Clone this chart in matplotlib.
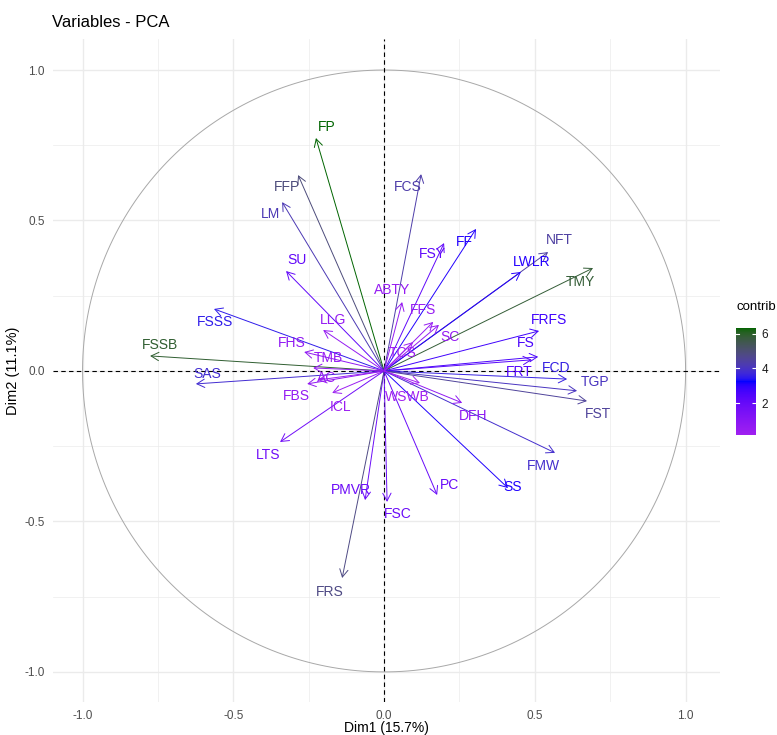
import numpy as np
import matplotlib
matplotlib.use("Agg")
import matplotlib.pyplot as plt
from matplotlib.colors import ListedColormap, Normalize, to_rgb
from matplotlib.cm import ScalarMappable

plt.rcParams['font.family'] = ['Liberation Sans', 'DejaVu Sans']

# ------------------------------------------------------------------
# donnees (coordonnees des variables sur Dim1/Dim2)
# ------------------------------------------------------------------
var_names = ["FP", "FFP", "LM", "SU", "FCS", "FF", "FSY", "NFT", "LWLR", "TMY",
             "FRFS", "FS", "FRT", "FCD", "TGP", "FST", "FSSS", "FSSB", "SAS", "LLG",
             "FHS", "TMB", "AC", "FBS", "ICL", "LTS", "PMVR", "FSC", "PC", "SS",
             "FRS", "FMW", "DFH", "WSWB", "ABTY", "FFS", "SC", "TCS"]
dim1 = [-0.226, -0.285, -0.338, -0.325, 0.123, 0.305, 0.199, 0.544, 0.454, 0.693,
        0.514, 0.511, 0.490, 0.607, 0.640, 0.673, -0.564, -0.776, -0.624, -0.202,
        -0.265, -0.235, -0.219, -0.255, -0.172, -0.345, -0.063, 0.010, 0.176, 0.411,
        -0.139, 0.567, 0.259, 0.119, 0.060, 0.163, 0.182, 0.096]
dim2 = [0.774, 0.651, 0.561, 0.332, 0.654, 0.472, 0.425, 0.395, 0.329, 0.342,
        0.133, 0.047, 0.037, -0.027, -0.066, -0.100, 0.206, 0.050, -0.043, 0.136,
        0.063, 0.010, -0.030, -0.043, -0.073, -0.236, -0.429, -0.435, -0.412, -0.389,
        -0.688, -0.272, -0.106, -0.040, 0.229, 0.163, 0.153, 0.096]
contrib = [6.34, 4.92, 4.18, 2.10, 4.32, 3.08, 2.15, 4.41, 3.06, 5.82,
           2.75, 2.57, 2.35, 3.60, 4.04, 4.51, 3.51, 5.90, 3.81, 0.58,
           0.72, 0.54, 0.48, 0.65, 0.34, 1.70, 1.83, 1.85, 1.96, 3.12,
           4.80, 3.86, 0.76, 0.15, 0.55, 0.52, 0.55, 0.18]
# position des etiquettes (repoussees comme ggrepel)
lab_x = [-0.189, -0.322, -0.378, -0.289, 0.080, 0.265, 0.159, 0.580, 0.491, 0.650,
         0.547, 0.471, 0.448, 0.570, 0.700, 0.710, -0.561, -0.743, -0.587, -0.169,
         -0.305, -0.186, -0.189, -0.292, -0.143, -0.385, -0.109, 0.046, 0.216, 0.425,
         -0.179, 0.527, 0.295, 0.076, 0.027, 0.129, 0.219, 0.063]
lab_y = [0.811, 0.611, 0.522, 0.369, 0.611, 0.429, 0.389, 0.435, 0.362, 0.296,
         0.169, 0.093, -0.003, 0.010, -0.037, -0.143, 0.163, 0.086, -0.010, 0.169,
         0.093, 0.043, -0.023, -0.083, -0.120, -0.279, -0.395, -0.475, -0.379, -0.385,
         -0.734, -0.316, -0.150, -0.086, 0.269, 0.203, 0.113, 0.060]

ticks = [-1.0, -0.5, 0.0, 0.5, 1.0]
grad_cols = ["#A020F0", "#0000FF", "#006400"]   # purple, blue, darkgreen (R)


# ------------------------------------------------------------------
# degrade interpole dans l'espace Lab, comme scale_color_gradientn
# ------------------------------------------------------------------
WHITE = np.array([0.95047, 1.0, 1.08883])
M = np.array([[0.4124, 0.3576, 0.1805],
              [0.2126, 0.7152, 0.0722],
              [0.0193, 0.1192, 0.9505]])
MINV = np.linalg.inv(M)


def to_lab(hexcol):
    c = np.array(to_rgb(hexcol))
    lin = np.where(c <= 0.04045, c / 12.92, ((c + 0.055) / 1.055) ** 2.4)
    xyz = M @ lin / WHITE
    f = np.where(xyz > (6 / 29) ** 3, np.cbrt(xyz), xyz / (3 * (6 / 29) ** 2) + 4 / 29)
    return np.array([116 * f[1] - 16, 500 * (f[0] - f[1]), 200 * (f[1] - f[2])])


def from_lab(lab):
    fy = (lab[0] + 16) / 116
    f = np.array([fy + lab[1] / 500, fy, fy - lab[2] / 200])
    xyz = np.where(f > 6 / 29, f ** 3, 3 * (6 / 29) ** 2 * (f - 4 / 29)) * WHITE
    lin = MINV @ xyz
    lin = np.clip(lin, 0, 1)
    c = np.where(lin <= 0.0031308, 12.92 * lin, 1.055 * lin ** (1 / 2.4) - 0.055)
    return np.clip(c, 0, 1)


labs = [to_lab(c) for c in grad_cols]
cols = []
for t in np.linspace(0, 1, 256):
    seg = min(int(t * 2), 1)
    u = t * 2 - seg
    cols.append(from_lab(labs[seg] * (1 - u) + labs[seg + 1] * u))
cmap = ListedColormap(cols)
norm = Normalize(vmin=min(contrib), vmax=max(contrib))

fig = plt.figure(figsize=(7.77, 7.35), dpi=100)
ax = fig.add_axes([0.0682, 0.0449, 0.8584, 0.902])
ax.set_xlim(-1.098, 1.114)
ax.set_ylim(-1.10, 1.103)

# grille facon theme_minimal
for v in np.arange(-1.0, 1.01, 0.25):
    major = abs(v * 2 - round(v * 2)) < 1e-9
    ax.axvline(v, color="#EBEBEB", lw=1.0 if major else 0.5, zorder=0)
    ax.axhline(v, color="#EBEBEB", lw=1.0 if major else 0.5, zorder=0)
for s in ax.spines.values():
    s.set_visible(False)

theta = np.linspace(0, 2 * np.pi, 300)
ax.plot(np.cos(theta), np.sin(theta), color="#A8A8A8", lw=0.7, zorder=1)
ax.axhline(0, color="black", ls=(0, (4, 3)), lw=0.8, zorder=2)
ax.axvline(0, color="black", ls=(0, (4, 3)), lw=0.8, zorder=2)

for i, name in enumerate(var_names):
    c = cmap(norm(contrib[i]))
    ax.annotate("", xy=(dim1[i], dim2[i]), xytext=(0, 0),
                arrowprops=dict(arrowstyle="->,head_length=0.55,head_width=0.3",
                                color=c, lw=0.7, shrinkA=0, shrinkB=0), zorder=3)
    ax.text(lab_x[i], lab_y[i], name, color=c, fontsize=10,
            ha="center", va="center", zorder=4)

ax.set_xticks(ticks)
ax.set_yticks(ticks)
ax.set_xticklabels([f"{t:.1f}" for t in ticks])
ax.set_yticklabels([f"{t:.1f}" for t in ticks])
ax.tick_params(length=0, labelsize=8.5, labelcolor="#4D4D4D", pad=6)
ax.set_xlabel("Dim1 (15.7%)", fontsize=10, labelpad=-1)
ax.set_ylabel("Dim2 (11.1%)", fontsize=10.5, labelpad=3)
fig.text(0.067, 0.970, "Variables - PCA", fontsize=12, ha="left", va="center")

# legende contrib
cax = fig.add_axes([0.947, 0.408, 0.026, 0.146])
cb = fig.colorbar(ScalarMappable(norm=norm, cmap=cmap), cax=cax)
cb.outline.set_visible(False)
cb.set_ticks([2, 4, 6])
cax.tick_params(direction="in", length=3, color="white", labelsize=8.5,
                labelcolor="#1A1A1A", pad=4)
for t in [2, 4, 6]:
    cax.axhline(t, xmin=0, xmax=0.18, color="white", lw=0.8)
fig.text(0.974, 0.574, "contrib", fontsize=9.5, ha="center", va="bottom")

plt.savefig("out.png", dpi=100)
plt.close()
